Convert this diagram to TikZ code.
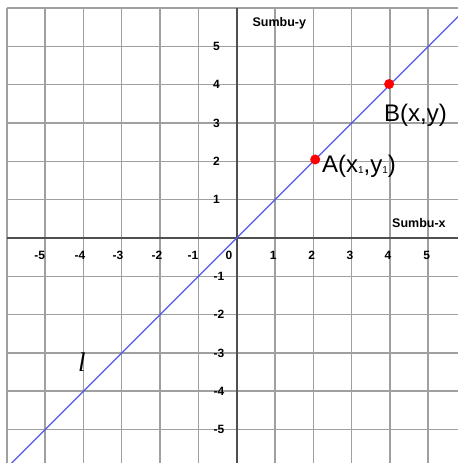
\documentclass[tikz,border=0pt]{standalone}
\usepackage{fontspec}
\setmainfont{Liberation Sans}
\newfontfamily\lserif{Liberation Serif}
\definecolor{gridgray}{RGB}{160,160,160}
\definecolor{axisgray}{RGB}{80,80,80}
\definecolor{lineblue}{RGB}{85,85,230}
\newcommand{\smallsub}[1]{\raisebox{-1.5pt}{\fontsize{10}{10}\selectfont #1}}
\begin{document}
\begin{tikzpicture}[x=38.3pt,y=38.3pt,
  gridline/.style={draw=gridgray, line width=1.4pt},
  axisline/.style={draw=axisgray, line width=2.2pt},
  ticklbl/.style={font=\bfseries\fontsize{12}{12}\selectfont, inner sep=0pt},
  axislbl/.style={font=\bfseries\fontsize{12.5}{12.5}\selectfont, inner sep=0pt, anchor=base west},
  reddot/.style={circle, fill=red, minimum size=10pt, inner sep=0pt},
  ptlabel/.style={font=\fontsize{24}{24}\selectfont, inner sep=0pt, anchor=base west}]
\useasboundingbox (-6.18,-5.875) rectangle (5.778,6.214);
\begin{scope}
  \clip (-6.18,-5.875) rectangle (5.778,6.214);
  \foreach \i in {-6,...,5} \draw[gridline] (\i,-5.875) -- (\i,6);
  \foreach \j in {-5,...,6} \draw[gridline] (-6,\j) -- (5.778,\j);
  \draw[axisline] (0,-5.875) -- (0,6);
  \draw[axisline] (-6,0) -- (5.778,0);
  % x tick labels
  \node[ticklbl] (xm5) at (-5.14,-0.444) {-5};
  \node[ticklbl] (xm4) at (-4.09,-0.444) {-4};
  \node[ticklbl] (xm3) at (-3.10,-0.444) {-3};
  \node[ticklbl] (xm2) at (-2.08,-0.444) {-2};
  \node[ticklbl] (xm1) at (-1.14,-0.444) {-1};
  \node[ticklbl] (x0) at (-0.20,-0.444) {0};
  \node[ticklbl] (x1) at (0.956,-0.444) {1};
  \node[ticklbl] (x2) at (1.958,-0.444) {2};
  \node[ticklbl] (x3) at (2.958,-0.444) {3};
  \node[ticklbl] (x4) at (3.95,-0.444) {4};
  \node[ticklbl] (x5) at (4.96,-0.444) {5};
  % y tick labels
  \foreach \j in {1,...,5} \node[ticklbl, anchor=east] (y\j) at (-0.436,\j) {\j};
  \foreach \j in {1,...,5} \node[ticklbl, anchor=east] (ym\j) at (-0.32,-\j) {-\j};
  \node[axislbl] (sy) at (0.410,5.509) {Sumbu-y};
  \node[axislbl] (sx) at (4.055,0.287) {Sumbu-x};
  % line l
  \coordinate (lstart) at (-6.3,-6.3);
  \coordinate (lend) at (6.3,6.3);
  \draw[lineblue, line width=1.3pt] (lstart) -- (lend);
  \node[font=\lserif\itshape\fontsize{27}{27}\selectfont, inner sep=0pt] (ell) at (-4.04,-3.24) {l};
  % points
  \node[reddot] (A) at (2.05,2.05) {};
  \node[reddot] (B) at (3.98,4.02) {};
  \node[ptlabel] (Alab) at (2.227,1.723) {A(x\smallsub{1},y\smallsub{1})};
  \node[ptlabel] (Blab) at (3.846,3.029) {B(x,y)};
\end{scope}
\end{tikzpicture}
\end{document}
